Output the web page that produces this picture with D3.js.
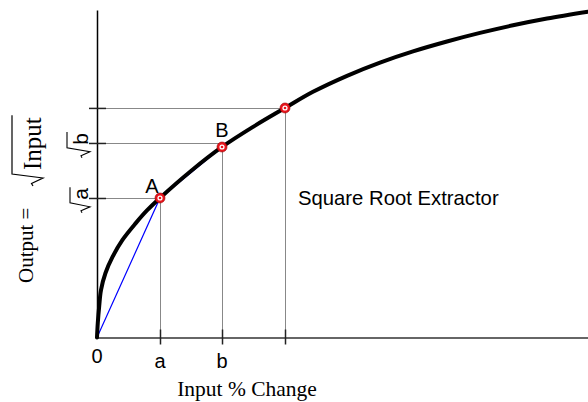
<!DOCTYPE html>
<html><head><meta charset="utf-8">
<script src="https://cdn.jsdelivr.net/npm/d3@7"></script>
<style>body{margin:0;background:#fff}svg{display:block}</style>
</head><body>
<svg id="c" width="588" height="402"></svg>
<script>
// ---- data (input %, output %) ----
const curveX = [0, 0.16, 0.45, 0.81, 1.73, 3.16, 5.19, 7.94, 10.18, 12.83, 19.14, 25.46, 31.87, 38.29, 43.99, 50.92, 57.64, 64.36, 71.28, 78.0, 84.73, 91.65, 100];
const curveY = [0, 4.43, 9.62, 14.5, 19.7, 24.6, 29.8, 35.0, 38.8, 42.6, 50.84, 58.17, 64.4, 70.08, 75.02, 79.91, 83.94, 87.36, 90.38, 93.0, 95.33, 97.4, 99.48];
const pointX = [12.83, 25.46, 38.29];
const pointY = [42.6, 58.17, 70.08];
const pointLabels = ["A", "B", ""];
const chordX = [0, 12.83, 25.46];
const chordY = [0, 42.6, 58.17];
const xTicks = [12.83, 25.46, 38.29];
const xTickLabels = ["a", "b", ""];
const yTicks = [42.6, 59.4, 70.1];
const yTickLabels = ["a", "b", ""];
const xTitle = "Input % Change";
const yTitleLeft = "Output =";
const yTitleRad = "Input";
const note = "Square Root Extractor";

const svg = d3.select("#c");
const x = d3.scaleLinear().domain([0, 100]).range([97, 588]);
const y = d3.scaleLinear().domain([0, 100]).range([337.5, 10]);

// guide lines
const guides = svg.append("g").attr("stroke", "#888").attr("stroke-width", 1).attr("shape-rendering", "crispEdges");
yTicks.forEach((t, i) => {
  guides.append("line").attr("x1", x(0)).attr("x2", x(xTicks[i])).attr("y1", Math.round(y(t)) + 0.5).attr("y2", Math.round(y(t)) + 0.5);
});
xTicks.forEach((t, i) => {
  guides.append("line").attr("x1", Math.round(x(t)) + 0.5).attr("x2", Math.round(x(t)) + 0.5).attr("y1", y(0)).attr("y2", y(pointY[i]));
});

// axes
const xAxis = svg.append("g").attr("transform", `translate(0,${y(0)})`)
  .call(d3.axisBottom(x).tickValues(xTicks).tickFormat("").tickSizeOuter(0));
xAxis.select(".domain").attr("stroke", "#333").attr("stroke-width", 1.5);
xAxis.selectAll(".tick line").attr("y1", -8).attr("y2", 7).attr("stroke", "#222").attr("stroke-width", 1.5);

const yAxis = svg.append("g").attr("transform", `translate(${x(0)},0)`)
  .call(d3.axisLeft(y).tickValues(yTicks).tickFormat("").tickSizeOuter(0));
yAxis.select(".domain").attr("stroke", "#000").attr("stroke-width", 1.5);
yAxis.selectAll(".tick line").attr("x1", -8).attr("x2", 9).attr("stroke", "#222").attr("stroke-width", 1.5);

// chord (blue)
svg.append("path").datum(chordX.map((d, i) => [d, chordY[i]]))
  .attr("fill", "none").attr("stroke", "#0000ff").attr("stroke-width", 1.2)
  .attr("d", d3.line().x(d => x(d[0])).y(d => y(d[1])));

// curve
svg.append("path").datum(curveX.map((d, i) => [d, curveY[i]]))
  .attr("fill", "none").attr("stroke", "#000").attr("stroke-width", 4).attr("stroke-linecap", "round")
  .attr("d", d3.line().x(d => x(d[0])).y(d => y(d[1])).curve(d3.curveCatmullRom.alpha(0.5)));

// markers
const mk = svg.append("g").selectAll("g").data(pointX.map((d, i) => [d, pointY[i]])).join("g")
  .attr("transform", d => `translate(${x(d[0])},${y(d[1])})`);
mk.append("circle").attr("r", 5).attr("fill", "#e8141c").attr("stroke", "#900").attr("stroke-width", 0.6);
mk.append("circle").attr("r", 2.6).attr("fill", "#fff");
mk.append("circle").attr("r", 1.3).attr("fill", "#e8141c");

// point labels
const plOff = [[-8, -5], [0, -10]];
pointLabels.forEach((l, i) => {
  if (!l) return;
  svg.append("text").attr("x", x(pointX[i]) + plOff[i][0]).attr("y", y(pointY[i]) + plOff[i][1])
    .attr("text-anchor", "middle").attr("font-family", "Liberation Sans, Arial, sans-serif").attr("font-size", 20).text(l);
});

// x tick labels
svg.append("text").attr("x", x(0)).attr("y", 363).attr("text-anchor", "middle")
  .attr("font-family", "Liberation Sans, Arial, sans-serif").attr("font-size", 20).text("0");
xTicks.forEach((t, i) => {
  if (!xTickLabels[i]) return;
  svg.append("text").attr("x", x(t)).attr("y", 368).attr("text-anchor", "middle")
    .attr("font-family", "Liberation Sans, Arial, sans-serif").attr("font-size", 20).text(xTickLabels[i]);
});

// y tick labels: rotated radicals
function radicalLabel(cx, cyCenter, label, fs, topV) {
  const g = svg.append("g").attr("transform", `translate(${cx},${cyCenter}) rotate(-90)`);
  const t = g.append("text").attr("x", 4).attr("y", 0).attr("text-anchor", "middle")
    .attr("font-family", "Liberation Sans, Arial, sans-serif").attr("font-size", fs).text(label);
  const w = t.node().getComputedTextLength();
  const u0 = 4 - w / 2 - 3;
  g.append("path").attr("fill", "none").attr("stroke", "#000").attr("stroke-width", 1.1)
    .attr("d", `M${u0 - 10},-6 L${u0 - 8},-7 L${u0 - 4},2 L${u0},${topV} H${4 + w / 2 + 1}`);
}
yTicks.forEach((t, i) => {
  if (!yTickLabels[i]) return;
  radicalLabel(88, y(t), yTickLabels[i], 21, yTickLabels[i] === "b" ? -21 : -18);
});

// x title
svg.append("text").attr("x", 247).attr("y", 396).attr("text-anchor", "middle")
  .attr("font-family", "Liberation Serif, Times New Roman, serif").attr("font-size", 21.5).text(xTitle);

// y title
const yt = svg.append("g").attr("transform", "translate(33,283) rotate(-90)");
yt.append("text").attr("x", 0).attr("y", 0)
  .attr("font-family", "Liberation Serif, Times New Roman, serif").attr("font-size", 21).text(yTitleLeft);
const it = yt.append("text").attr("x", 113).attr("y", 8)
  .attr("font-family", "Liberation Serif, Times New Roman, serif").attr("font-size", 25).text(yTitleRad);
const iw = it.node().getComputedTextLength();
yt.append("path").attr("fill", "none").attr("stroke", "#000").attr("stroke-width", 1.2)
  .attr("d", `M97,0 L99.5,-1.5 L105,10 L109,-21 H${113 + iw + 2}`);

// note
svg.append("text").attr("x", 298).attr("y", 205)
  .attr("font-family", "Liberation Sans, Arial, sans-serif").attr("font-size", 20.3).text(note);
</script>
</body></html>
